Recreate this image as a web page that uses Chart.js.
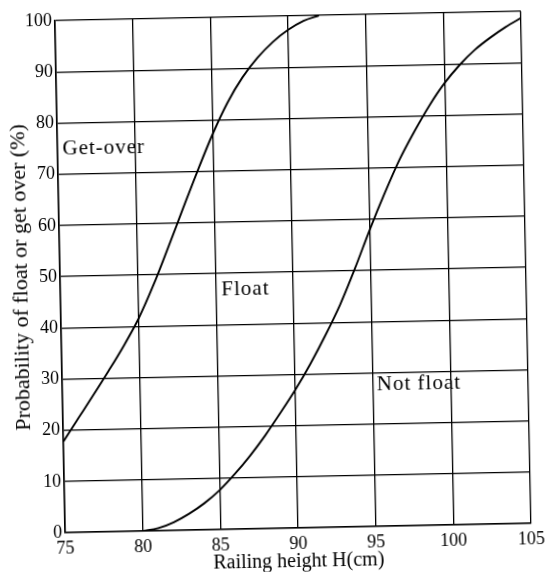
<!DOCTYPE html>
<html>
<head>
<meta charset="utf-8">
<script src="https://cdn.jsdelivr.net/npm/chart.js@4/dist/chart.umd.min.js"></script>
<style>
  html, body { margin: 0; padding: 0; background: #fff; }
  /* the printed figure sits slightly tilted on the page */
  #chart { display: block; transform: rotate(-1.15deg); transform-origin: 293px 272px; }
</style>
</head>
<body>
<canvas id="chart" width="546" height="572"></canvas>
<script>
// Get-over boundary (upper curve)
const heightUpper = [75, 76, 77, 78, 79, 80, 81, 82, 83, 84, 85, 86, 87, 88, 89, 90, 91, 92];
const getOver     = [17.8, 22.3, 26.8, 31.4, 36.2, 41.5, 48, 55.3, 62.8, 70.2, 77.2, 83.3, 88.2, 92, 95, 97.3, 99, 100];

// Float / not float boundary (lower curve)
const heightLower = [80, 81, 82, 83, 84, 85, 86, 87, 88, 89, 90, 91, 92, 93, 94, 95, 96, 97, 98, 99, 100, 101, 102, 103, 104, 105];
const notFloat    = [0, 0.5, 1.6, 3.2, 5.2, 7.7, 10.8, 14.3, 18.2, 22.5, 27, 32, 37.5, 43.5, 50.5, 58, 65, 71.5, 77, 82, 86.3, 89.8, 92.7, 95, 97, 98.7];

// region names written inside the plot, anchored at [H, %]
const regionNames = ['Get-over', 'Float', 'Not float'];
const regionAt = [[75.32, 73.9], [85.37, 45.8], [95.25, 26.5]];

const SERIF = '"Liberation Serif", "Times New Roman", serif';

const pts = (xs, ys) => xs.map((x, i) => ({ x, y: ys[i] }));

const regionLabels = {
  id: 'regionLabels',
  afterDatasetsDraw(chart) {
    const { ctx, scales: { x, y } } = chart;
    ctx.save();
    ctx.font = '21px ' + SERIF;
    ctx.fillStyle = '#000';
    ctx.textBaseline = 'alphabetic';
    ctx.letterSpacing = '1px';
    regionNames.forEach((t, i) => {
      ctx.fillText(t, x.getPixelForValue(regionAt[i][0]), y.getPixelForValue(regionAt[i][1]));
    });
    ctx.restore();
  }
};

const curve = (data) => ({
  data,
  borderColor: '#000',
  borderWidth: 1.9,
  pointRadius: 0,
  fill: false,
  showLine: true,
  cubicInterpolationMode: 'monotone'
});

new Chart(document.getElementById('chart'), {
  type: 'scatter',
  data: {
    datasets: [curve(pts(heightUpper, getOver)), curve(pts(heightLower, notFloat))]
  },
  options: {
    responsive: false,
    animation: false,
    layout: { padding: { left: 4, top: 16, right: 20, bottom: 0 } },
    plugins: { legend: { display: false }, tooltip: { enabled: false } },
    scales: {
      x: {
        type: 'linear',
        min: 75, max: 105,
        afterFit: (s) => { s.height = 44; },
        ticks: { stepSize: 5, padding: 5, color: '#000', font: { family: SERIF, size: 18 } },
        grid: { color: '#000', lineWidth: 1.3, drawTicks: false },
        border: { color: '#000', width: 1.6 },
        title: {
          display: true,
          text: 'Railing height H(cm)',
          color: '#000',
          font: { family: SERIF, size: 20 },
          padding: { top: 0, bottom: -2 }
        }
      },
      y: {
        min: 0, max: 100,
        afterFit: (s) => { s.width = 56; },
        ticks: { stepSize: 10, padding: 3, color: '#000', font: { family: SERIF, size: 18 } },
        grid: { color: '#000', lineWidth: 1.3, drawTicks: false },
        border: { color: '#000', width: 1.6 },
        title: {
          display: true,
          text: 'Probability of float or get over (%)',
          color: '#000',
          font: { family: SERIF, size: 22 },
          padding: { top: 4, bottom: 0 }
        }
      }
    }
  },
  plugins: [regionLabels]
});
</script>
</body>
</html>
